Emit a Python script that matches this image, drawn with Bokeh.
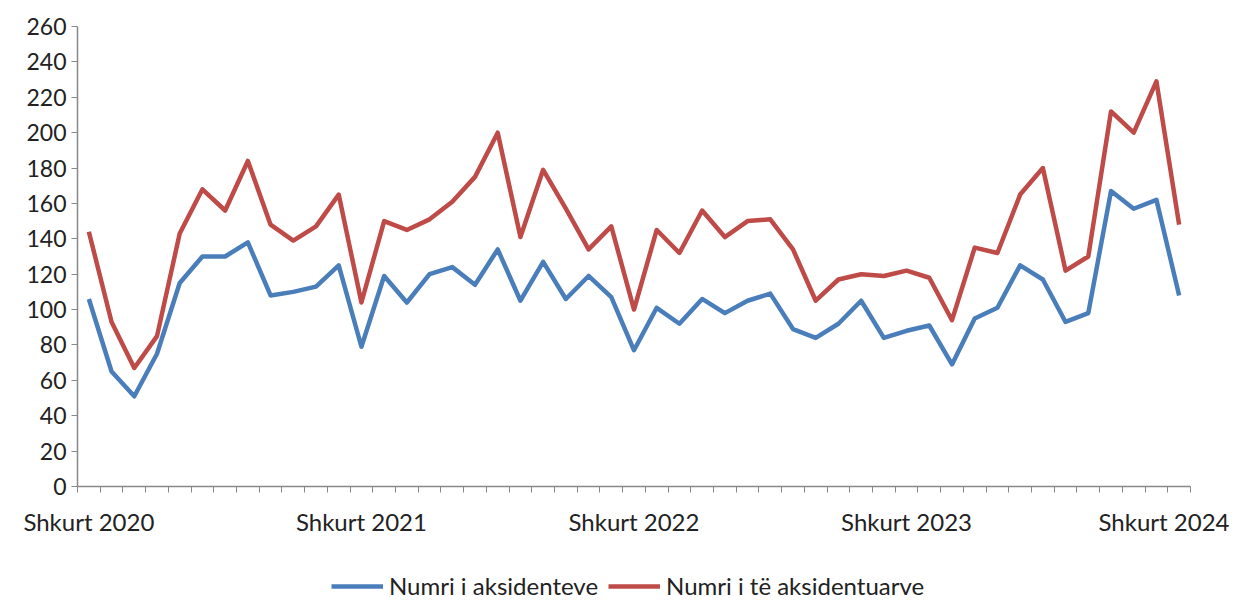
from bokeh.plotting import figure
from bokeh.layouts import column
from bokeh.models import FixedTicker, Legend, LegendItem, Range1d
from bokeh.embed import file_html
from bokeh.resources import INLINE

accidents = [106, 65, 51, 75, 115, 130, 130, 138, 108, 110, 113, 125,
             79, 119, 104, 120, 124, 114, 134, 105, 127, 106, 119, 107,
             77, 101, 92, 106, 98, 105, 109, 89, 84, 92, 105, 84,
             88, 91, 69, 95, 101, 125, 117, 93, 98, 167, 157, 162,
             108]
injured = [144, 93, 67, 85, 143, 168, 156, 184, 148, 139, 147, 165,
           104, 150, 145, 151, 161, 175, 200, 141, 179, 157, 134, 147,
           100, 145, 132, 156, 141, 150, 151, 134, 105, 117, 120, 119,
           122, 118, 94, 135, 132, 165, 180, 122, 130, 212, 200, 229,
           148]
tick_positions = [0, 12, 24, 36, 48]
tick_labels = ["Shkurt 2020", "Shkurt 2021", "Shkurt 2022", "Shkurt 2023", "Shkurt 2024"]
y_ticks = list(range(0, 261, 20))
series_names = ["Numri i aksidenteve", "Numri i të aksidentuarve"]
colors = ["#4A7EBB", "#BE4B48"]

months = list(range(len(accidents)))
FONT = "Lato"

p = figure(width=1229, height=546, output_backend="svg", toolbar_location=None,
           x_range=Range1d(-0.5, len(months) - 0.5), y_range=Range1d(0, 260),
           min_border_left=77, min_border_right=39, min_border_top=26, min_border_bottom=60)
p.outline_line_color = None
p.xgrid.grid_line_color = None
p.ygrid.grid_line_color = None

r1 = p.line(months, accidents, line_color=colors[0], line_width=4.5, line_join="round")
r2 = p.line(months, injured, line_color=colors[1], line_width=4.5, line_join="round")

axis_color = "#888888"
xa = p.xaxis[0]
xa.ticker = FixedTicker(ticks=tick_positions, minor_ticks=[m - 0.5 for m in range(len(months) + 1)])
xa.major_label_overrides = {t: l for t, l in zip(tick_positions, tick_labels)}
xa.major_tick_line_color = None
xa.minor_tick_line_color = axis_color
xa.minor_tick_out = 6
xa.minor_tick_in = 0
xa.axis_line_color = axis_color
xa.axis_line_width = 1.5
xa.major_label_standoff = 14
xa.major_label_text_font = FONT
xa.major_label_text_font_size = "24px"
xa.major_label_text_color = "#222222"

ya = p.yaxis[0]
ya.ticker = FixedTicker(ticks=y_ticks)
ya.minor_tick_line_color = None
ya.major_tick_line_color = axis_color
ya.major_tick_out = 6
ya.major_tick_in = 0
ya.axis_line_color = axis_color
ya.axis_line_width = 1.5
ya.major_label_standoff = 5
ya.major_label_text_font = FONT
ya.major_label_text_font_size = "23px"
ya.major_label_text_color = "#222222"

# legend strip below the chart
lf = figure(width=1229, height=55, output_backend="svg", toolbar_location=None,
            x_range=Range1d(0, 1), y_range=Range1d(0, 1),
            x_axis_location=None, y_axis_location=None,
            min_border_left=0, min_border_right=0, min_border_top=0, min_border_bottom=0)
lf.grid.grid_line_color = None
lf.outline_line_color = None
k1 = lf.line([-2, -1], [-2, -1], line_color=colors[0], line_width=4.5)
k2 = lf.line([-2, -1], [-2, -1], line_color=colors[1], line_width=4.5)
legend = Legend(items=[LegendItem(label=series_names[0], renderers=[k1]),
                       LegendItem(label=series_names[1], renderers=[k2])],
                orientation="horizontal", location=(254, 1),
                glyph_width=52, glyph_height=20, label_standoff=6, spacing=10,
                label_text_font=FONT, label_text_font_size="24px", label_text_color="#222222",
                border_line_color=None, background_fill_alpha=0, padding=1, margin=0)
lf.add_layout(legend)

open("out.html", "w").write(file_html(column(p, lf, spacing=0), INLINE))
